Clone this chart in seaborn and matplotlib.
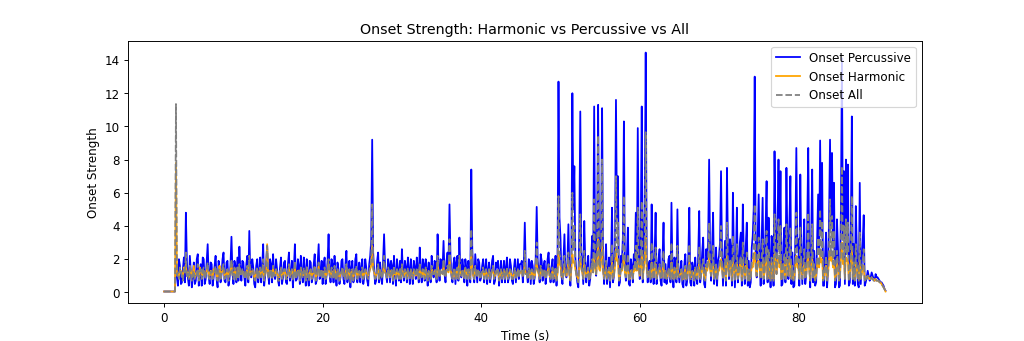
import numpy as np
import pandas as pd
import matplotlib
matplotlib.use("Agg")
import matplotlib.pyplot as plt
import seaborn as sns

# Onset strength envelopes.
# *_frames: samples at every 0.25 s (0 .. 91 s); *_mid: samples half-way between them.
perc_frames = [
    0.05,0.05,0.05,0.05,0.05,0.05,1.9,0.4,1.6,0.6,2.1,4.8,0.9,2.2,0.3,1.8,0.7,2.3,1.0,0.4,
    2.0,0.8,2.9,0.5,1.7,0.9,2.2,0.3,1.5,1.1,2.4,0.6,1.9,0.8,3.35,0.5,1.6,2.1,2.75,0.7,
    1.8,0.4,2.2,3.7,0.9,1.5,0.3,2.0,1.2,0.6,2.9,1.0,2.8,0.5,1.7,2.3,0.8,1.4,0.4,2.1,
    0.9,1.9,0.5,2.4,1.1,0.3,2.9,0.8,1.6,2.2,0.6,1.3,2.0,0.4,1.8,0.9,2.3,0.7,2.9,1.2,
    0.5,2.1,1.0,3.5,0.6,1.7,2.2,0.4,1.4,0.9,2.0,0.5,2.5,1.1,0.3,1.9,0.8,2.3,1.3,0.6,
    2.0,0.9,1.5,0.4,2.2,9.2,1.3,0.7,2.4,1.8,0.5,3.5,1.1,2.0,0.6,1.6,2.2,0.4,1.3,1.9,
    2.6,0.7,1.5,2.1,0.5,1.2,1.9,0.8,1.4,2.7,0.6,1.7,2.0,0.4,1.1,2.2,0.9,1.6,3.5,0.7,
    1.8,3.1,0.6,2.4,5.3,1.0,1.7,0.5,2.2,3.3,0.9,1.5,2.0,0.4,1.3,7.4,1.1,2.3,0.6,1.8,
    0.9,2.0,1.4,0.5,1.8,1.1,2.2,0.7,1.5,0.4,1.9,1.2,0.6,2.1,0.9,1.6,0.5,2.0,1.3,0.8,
    1.7,0.6,4.2,1.2,2.0,0.5,1.6,0.9,5.15,1.4,2.3,0.7,1.9,1.1,2.4,0.6,2.0,1.3,0.4,12.7,
    3.3,0.5,3.5,0.9,4.1,0.4,12.0,7.6,1.2,0.3,10.9,1.5,4.3,0.6,2.2,0.8,3.4,11.2,1.0,11.3,
    1.4,11.1,0.5,2.9,1.2,0.3,5.1,1.0,11.6,7.0,0.6,1.8,10.3,0.7,3.9,0.4,1.6,2.3,4.8,9.9,
    0.8,11.2,2.4,14.45,0.6,1.9,5.3,0.5,4.8,1.3,2.6,0.4,4.2,1.7,0.9,2.2,5.4,0.3,1.8,5.0,
    0.6,1.9,0.3,2.3,0.8,5.1,0.4,1.5,2.1,0.5,4.9,1.2,3.3,0.3,2.0,8.0,0.7,4.8,1.1,0.4,
    2.2,7.3,0.4,3.1,7.5,0.8,2.6,6.0,0.3,5.1,1.4,3.6,5.3,0.5,4.2,1.9,0.6,3.4,13.0,0.9,
    5.9,0.4,5.7,1.6,6.7,4.5,0.3,2.8,8.5,1.2,8.0,7.3,0.5,3.9,7.5,0.8,7.0,2.4,0.4,8.7,
    3.2,7.1,0.5,4.4,1.1,8.7,0.3,7.4,2.5,0.6,5.9,9.15,7.8,0.4,3.6,1.3,9.2,8.4,6.6,0.5,
    2.7,0.4,14.1,7.3,8.0,7.7,0.6,10.6,2.9,5.2,0.5,6.6,1.8,4.65,0.6,1.3,0.7,1.2,0.8,1.1,
    0.9,0.7,0.6,0.4,0.1,
]
perc_mid = [
    0.05,0.05,0.05,0.05,0.05,0.05,1.1,2.0,0.5,1.4,0.6,1.9,0.4,1.3,1.0,0.5,2.0,0.4,1.7,2.1,
    0.5,1.9,1.0,1.8,0.4,1.6,0.8,1.9,0.6,2.0,0.7,1.8,0.4,1.6,1.2,1.9,0.6,0.7,1.3,1.9,
    0.9,1.7,0.6,1.2,2.0,0.5,1.6,0.6,2.1,1.5,0.4,1.8,1.1,2.0,0.6,1.1,2.0,0.7,1.5,0.5,
    1.8,0.6,1.7,0.7,1.9,1.4,0.7,2.0,0.5,1.1,2.1,0.4,0.9,1.9,0.6,1.7,0.5,1.8,0.8,1.9,
    1.6,0.5,1.9,1.2,2.0,0.6,1.1,1.8,0.5,1.9,0.8,1.7,0.6,1.9,1.5,0.6,2.0,0.6,1.8,1.5,
    0.5,2.0,0.7,1.7,3.1,2.4,0.5,1.9,0.6,0.9,1.9,1.6,0.6,1.7,1.9,0.5,1.1,2.0,0.7,0.6,
    1.3,1.9,0.6,1.4,2.0,0.5,1.5,2.1,0.6,1.2,2.0,0.7,1.4,1.8,0.6,1.3,1.9,0.6,1.5,2.0,
    1.4,1.2,1.9,1.6,2.2,0.6,2.1,1.8,0.7,1.3,2.0,0.6,1.5,1.9,0.6,2.6,0.6,1.4,2.0,0.7,
    1.6,0.6,2.0,1.3,0.6,1.9,0.5,1.8,1.9,1.2,0.6,1.9,1.5,0.6,2.0,0.7,1.4,0.6,2.0,1.7,
    1.9,1.6,1.4,0.6,1.8,1.9,0.5,2.1,1.9,0.6,1.9,1.6,0.5,2.0,1.2,1.5,0.6,2.2,1.6,4.5,
    1.0,2.0,1.2,1.8,1.3,2.2,5.0,2.1,0.6,3.8,2.6,0.5,1.9,1.5,0.4,2.0,1.6,2.5,4.2,2.2,
    3.8,1.9,1.6,0.5,2.1,1.8,0.6,2.8,4.5,0.4,2.2,3.4,1.6,2.1,0.5,2.0,0.6,1.9,1.8,2.4,
    3.6,0.6,5.0,2.2,1.7,0.6,1.9,2.3,0.5,2.0,0.7,2.1,0.6,0.5,2.0,0.6,1.4,2.1,0.6,1.3,
    1.4,0.5,1.7,0.4,2.2,0.6,1.8,0.4,0.9,2.3,0.6,2.4,0.5,2.6,3.1,2.2,2.6,0.5,2.7,1.9,
    3.0,2.5,1.8,0.4,2.7,3.2,0.4,2.3,1.9,0.6,3.0,0.4,2.1,2.8,0.4,0.3,2.7,5.1,2.5,3.4,
    2.2,3.0,0.5,3.9,0.6,1.9,3.4,0.4,3.6,4.1,2.6,0.4,3.0,0.6,2.9,4.2,0.5,0.3,3.3,2.7,
    0.4,2.5,2.6,0.5,4.0,2.2,3.3,0.6,0.4,3.2,2.4,3.5,0.4,2.2,0.3,4.4,3.9,2.7,0.3,4.4,
    0.3,5.1,3.2,0.5,4.1,0.4,3.8,0.5,0.4,2.7,0.3,0.5,3.1,0.4,0.9,1.0,0.9,1.0,0.7,0.9,
    0.8,0.6,0.5,0.2,
]

harm_frames = [
    0.05,0.05,0.05,0.05,0.05,0.05,7.8,1.0,1.3,1.1,1.5,1.7,1.2,1.4,0.9,1.6,1.1,1.3,1.5,1.0,
    1.3,1.1,1.5,1.0,1.2,1.4,1.3,0.9,1.6,1.2,1.4,1.0,1.3,1.1,1.7,1.0,1.4,1.2,1.5,1.1,
    1.2,1.0,1.4,1.6,1.1,1.3,0.9,1.4,1.2,1.0,1.6,1.1,2.9,1.0,1.3,1.5,1.1,1.2,0.9,1.4,
    1.1,1.3,1.0,1.5,1.2,0.9,1.6,1.1,1.3,1.4,1.0,1.2,1.5,0.9,1.3,1.1,1.5,1.0,1.6,1.2,
    1.0,1.3,1.1,1.7,1.0,1.2,1.4,0.9,1.2,1.1,1.4,1.0,1.5,1.1,0.8,1.3,1.1,1.4,1.2,1.0,
    1.3,1.1,1.2,1.0,1.4,2.8,1.2,1.0,1.5,1.3,1.0,1.7,1.1,1.3,1.0,1.2,1.4,1.0,1.2,1.3,
    1.5,1.0,1.2,1.3,0.9,1.1,1.3,1.0,1.2,1.5,1.0,1.2,1.4,0.9,1.1,1.4,1.1,1.2,1.8,1.0,
    1.2,1.6,1.0,1.4,2.0,1.1,1.2,0.9,1.3,1.7,1.0,1.2,1.4,0.9,1.1,2.4,1.0,1.4,1.0,1.2,
    1.1,1.3,1.2,0.9,1.3,1.1,1.4,1.0,1.2,0.9,1.3,1.1,0.9,1.4,1.0,1.2,0.9,1.3,1.1,1.0,
    1.2,1.0,1.8,1.1,1.3,0.9,1.2,1.0,2.0,1.1,1.4,1.0,1.3,1.1,1.5,0.9,1.3,1.2,0.8,2.5,
    1.6,0.9,1.5,1.0,1.7,0.8,2.3,1.8,1.1,0.8,2.0,1.2,1.7,1.0,1.3,1.0,1.5,2.1,1.1,3.2,
    1.3,2.9,0.9,1.5,1.1,0.8,1.8,1.0,2.6,1.9,1.0,1.3,2.2,1.0,1.6,0.8,1.2,1.4,1.7,2.0,
    1.0,2.2,1.4,3.3,1.0,1.3,1.8,0.9,1.7,1.1,1.5,0.9,1.6,1.2,1.0,1.3,1.8,0.8,1.2,1.7,
    1.0,1.3,0.8,1.4,1.0,1.8,0.9,1.2,1.4,0.9,1.7,1.1,1.5,0.8,1.3,2.1,1.0,1.7,1.1,0.9,
    1.3,2.0,0.9,1.6,2.2,1.0,1.5,1.9,0.8,1.7,1.1,1.6,1.8,0.9,1.6,1.2,1.0,1.5,2.4,1.0,
    1.9,0.9,1.8,1.2,2.0,1.6,0.8,1.4,2.3,1.1,2.1,1.9,1.0,1.6,2.0,1.0,1.9,1.3,0.9,2.2,
    1.5,1.9,0.9,1.7,1.1,2.2,0.8,2.0,1.4,1.0,1.8,2.4,2.0,0.9,1.6,1.1,2.5,2.1,1.8,1.0,
    1.4,0.9,3.0,2.0,2.1,2.0,1.0,2.5,1.4,1.7,0.9,1.9,1.1,1.6,0.9,1.0,0.8,0.9,0.8,0.8,
    0.7,0.6,0.5,0.3,0.05,
]
harm_mid = [
    0.05,0.05,0.05,0.05,0.05,0.05,1.2,1.0,1.3,0.9,1.2,1.0,0.9,1.3,1.0,0.9,1.2,0.9,1.3,1.2,
    1.0,1.3,1.1,1.3,0.9,1.2,1.0,1.3,0.9,1.3,1.0,1.2,0.9,1.3,1.1,1.3,0.9,1.0,1.1,1.3,
    1.0,1.2,0.9,1.1,1.3,0.9,1.2,0.9,1.3,1.2,0.9,1.3,1.1,1.3,0.9,1.1,1.3,0.9,1.2,0.9,
    1.3,0.9,1.2,1.0,1.3,1.1,0.9,1.3,0.9,1.1,1.3,0.9,1.0,1.2,0.9,1.2,0.9,1.3,1.0,1.3,
    1.2,0.9,1.3,1.1,1.3,0.9,1.1,1.3,0.9,1.2,1.0,1.2,0.9,1.3,1.2,0.9,1.3,0.9,1.2,1.2,
    0.9,1.3,1.0,1.2,1.6,1.4,0.9,1.2,0.9,1.1,1.3,1.2,0.9,1.2,1.3,0.9,1.1,1.3,0.9,0.9,
    1.2,1.3,0.9,1.1,1.3,0.9,1.2,1.3,0.9,1.1,1.3,0.9,1.1,1.2,0.9,1.1,1.3,0.9,1.2,1.3,
    1.1,1.1,1.3,1.2,1.4,0.9,1.3,1.2,0.9,1.1,1.3,0.9,1.2,1.3,0.9,1.5,0.9,1.1,1.3,0.9,
    1.2,0.9,1.3,1.0,0.9,1.3,0.9,1.2,1.3,1.0,0.9,1.3,1.1,0.9,1.3,0.9,1.1,0.9,1.3,1.2,
    1.3,1.2,1.1,0.9,1.2,1.3,0.9,1.4,1.3,0.9,1.3,1.2,0.9,1.3,1.0,1.1,0.9,1.4,1.1,1.7,
    1.0,1.3,1.1,1.3,1.1,1.4,1.8,1.4,0.9,1.6,1.4,0.9,1.3,1.1,0.8,1.4,1.2,1.5,1.8,1.4,
    1.9,1.3,1.2,0.9,1.4,1.2,0.9,1.6,1.9,0.8,1.4,1.7,1.2,1.4,0.9,1.3,0.9,1.3,1.3,1.5,
    1.7,0.9,2.0,1.4,1.2,0.9,1.3,1.5,0.9,1.3,1.0,1.4,0.9,0.9,1.3,0.9,1.1,1.4,0.9,1.0,
    1.1,0.8,1.2,0.8,1.4,0.9,1.2,0.8,1.0,1.4,0.9,1.4,0.9,1.5,1.6,1.4,1.5,0.9,1.6,1.3,
    1.6,1.5,1.3,0.8,1.6,1.7,0.8,1.5,1.3,0.9,1.7,0.8,1.4,1.6,0.8,0.8,1.6,2.0,1.5,1.8,
    1.4,1.7,0.9,1.9,0.9,1.3,1.8,0.8,1.9,2.0,1.5,0.8,1.7,0.9,1.6,2.0,0.9,0.8,1.7,1.5,
    0.9,1.5,1.5,0.9,1.9,1.4,1.7,0.9,0.8,1.7,1.5,1.8,0.8,1.4,0.8,2.0,1.9,1.5,0.8,2.0,
    0.8,2.2,1.7,0.9,1.9,0.8,1.8,0.9,0.8,1.5,0.8,0.9,1.5,0.8,0.9,0.9,0.8,0.8,0.7,0.7,
    0.7,0.6,0.4,0.2,
]

all_frames = [
    0.05,0.05,0.05,0.05,0.05,0.05,11.35,1.2,1.5,0.9,1.4,2.4,1.1,1.6,0.7,1.3,1.0,1.7,1.2,0.8,
    1.5,1.0,1.8,0.8,1.3,1.1,1.6,0.7,1.2,1.3,1.7,0.9,1.4,1.0,2.0,0.8,1.2,1.5,1.7,1.0,
    1.4,0.8,1.6,2.2,1.1,1.3,0.7,1.5,1.2,0.9,2.0,1.1,2.8,0.8,1.3,1.6,1.0,1.2,0.7,1.5,
    1.1,1.4,0.8,1.7,1.2,0.7,1.9,1.0,1.3,1.5,0.9,1.2,1.5,0.7,1.4,1.1,1.6,0.9,1.8,1.2,
    0.8,1.5,1.1,2.0,0.9,1.3,1.6,0.7,1.2,1.0,1.5,0.8,1.7,1.1,0.6,1.4,1.0,1.6,1.2,0.9,
    1.5,1.0,1.3,0.8,1.6,5.3,1.2,0.9,1.7,1.4,0.8,2.2,1.1,1.5,0.9,1.3,1.6,0.8,1.2,1.4,
    1.7,0.9,1.2,1.5,0.8,1.1,1.4,1.0,1.2,1.8,0.9,1.3,1.5,0.7,1.0,1.6,1.1,1.3,2.2,0.9,
    1.3,2.0,0.9,1.6,3.2,1.1,1.3,0.8,1.5,2.2,1.0,1.2,1.5,0.8,1.1,3.8,1.0,1.6,0.9,1.3,
    1.0,1.5,1.2,0.8,1.4,1.1,1.6,0.9,1.2,0.7,1.4,1.1,0.8,1.5,1.0,1.3,0.8,1.5,1.1,0.9,
    1.3,0.9,2.5,1.1,1.5,0.8,1.3,1.0,3.0,1.2,1.6,0.9,1.4,1.1,1.7,0.8,1.5,1.2,0.7,5.8,
    2.1,0.8,2.2,1.0,2.4,0.7,6.0,4.0,1.1,0.6,4.7,1.2,2.5,0.9,1.5,1.0,2.0,5.6,1.1,9.45,
    1.5,8.0,0.8,1.9,1.1,0.6,2.9,1.0,7.0,4.2,0.9,1.4,5.8,0.9,2.3,0.7,1.3,1.6,2.8,5.1,
    1.0,5.5,1.6,9.65,0.9,1.4,3.0,0.8,2.7,1.1,1.7,0.8,2.5,1.3,1.0,1.5,3.0,0.7,1.3,2.8,
    0.9,1.4,0.7,1.6,1.0,2.9,0.8,1.2,1.5,0.8,2.7,1.1,2.0,0.7,1.4,4.2,1.0,2.8,1.1,0.8,
    1.5,4.0,0.8,2.0,4.2,1.0,1.7,3.4,0.7,2.9,1.2,2.2,3.0,0.8,2.4,1.4,0.9,2.1,5.3,1.0,
    3.3,0.8,3.2,1.3,3.7,2.6,0.7,1.8,4.7,1.1,4.4,4.0,0.9,2.3,4.1,1.0,3.9,1.6,0.8,4.8,
    2.0,3.9,0.8,2.6,1.1,4.8,0.7,4.1,1.7,0.9,3.3,5.0,4.3,0.8,2.2,1.1,5.6,4.6,3.7,0.9,
    1.7,0.8,7.6,4.0,4.4,4.2,0.9,5.8,1.8,2.9,0.8,3.6,1.2,2.6,0.9,1.0,0.8,0.9,0.7,0.8,
    0.7,0.6,0.5,0.3,0.05,
]
all_mid = [
    0.05,0.05,0.05,0.05,0.05,0.05,1.0,0.8,1.3,0.7,1.1,0.9,0.8,1.2,1.1,0.8,1.0,0.7,1.4,1.3,
    0.8,1.4,0.9,1.2,0.8,1.3,0.9,1.4,0.7,1.5,0.8,1.3,0.7,1.2,1.0,1.5,0.7,0.9,1.0,1.4,
    1.0,1.3,0.8,1.0,1.4,0.8,1.2,0.8,1.5,1.3,0.7,1.4,1.0,1.4,0.8,1.0,1.4,0.7,1.2,0.8,
    1.4,0.8,1.3,0.9,1.4,1.1,0.8,1.4,0.7,1.0,1.5,0.7,0.9,1.3,0.8,1.3,0.7,1.4,0.9,1.4,
    1.2,0.8,1.4,1.0,1.5,0.8,1.0,1.4,0.7,1.3,0.9,1.3,0.8,1.4,1.2,0.7,1.4,0.8,1.3,1.2,
    0.8,1.4,0.9,1.2,1.9,1.5,0.8,1.3,0.8,1.0,1.4,1.2,0.8,1.3,1.4,0.7,1.0,1.4,0.8,0.8,
    1.1,1.4,0.8,1.1,1.4,0.8,1.2,1.5,0.8,1.1,1.4,0.8,1.1,1.3,0.8,1.1,1.4,0.8,1.2,1.4,
    1.1,1.0,1.4,1.2,1.6,0.8,1.5,1.3,0.8,1.1,1.4,0.8,1.2,1.4,0.8,1.7,0.8,1.1,1.4,0.8,
    1.3,0.8,1.4,1.0,0.8,1.4,0.8,1.3,1.4,1.0,0.8,1.4,1.1,0.8,1.4,0.8,1.1,0.8,1.4,1.3,
    1.4,1.2,1.1,0.8,1.3,1.4,0.8,1.5,1.4,0.8,1.4,1.2,0.8,1.4,1.0,1.1,0.8,1.5,1.2,2.3,
    0.9,1.4,1.0,1.4,1.1,1.6,2.5,1.5,0.8,2.0,1.6,0.8,1.4,1.1,0.7,1.5,1.2,1.6,2.2,1.5,
    2.3,1.4,1.2,0.8,1.5,1.3,0.8,1.8,2.3,0.7,1.5,2.0,1.2,1.5,0.8,1.4,0.8,1.4,1.3,1.6,
    2.0,0.8,2.6,1.5,1.2,0.8,1.4,1.6,0.8,1.4,0.9,1.5,0.8,0.8,1.4,0.8,1.1,1.5,0.8,1.0,
    1.1,0.7,1.3,0.7,1.5,0.8,1.3,0.7,0.9,1.5,0.8,1.6,0.8,1.7,1.9,1.5,1.7,0.8,1.8,1.4,
    1.9,1.6,1.3,0.7,1.8,2.0,0.7,1.6,1.3,0.8,1.9,0.7,1.5,1.8,0.7,0.7,1.8,2.6,1.6,2.1,
    1.5,1.9,0.8,2.3,0.8,1.4,2.1,0.7,2.2,2.4,1.7,0.7,1.9,0.8,1.8,2.4,0.8,0.7,2.0,1.7,
    0.8,1.6,1.7,0.8,2.3,1.5,2.0,0.8,0.7,2.0,1.6,2.1,0.7,1.5,0.7,2.5,2.2,1.7,0.7,2.5,
    0.7,2.8,1.9,0.8,2.3,0.7,2.2,0.8,0.7,1.7,0.7,0.8,1.8,0.7,0.8,0.9,0.8,0.8,0.7,0.7,
    0.7,0.6,0.4,0.2,
]

FRAME_STEP = 0.25  # seconds between the samples in *_frames


def merge(frames, mids):
    """Interleave frame samples with the half-way samples."""
    assert len(mids) == len(frames) - 1, (len(frames), len(mids))
    out = np.empty(len(frames) + len(mids))
    out[0::2] = frames
    out[1::2] = mids
    return out


onset_percussive = merge(perc_frames, perc_mid)
onset_harmonic = merge(harm_frames, harm_mid)
onset_all = merge(all_frames, all_mid)
times = np.arange(len(onset_percussive)) * (FRAME_STEP / 2)

df = pd.DataFrame({
    "time": times,
    "perc": onset_percussive,
    "harm": onset_harmonic,
    "all": onset_all,
})

fig, ax = plt.subplots(figsize=(12, 4), dpi=1024 / 12)

sns.lineplot(data=df, x="time", y="perc", color="blue", label="Onset Percussive",
             ax=ax, estimator=None, linewidth=1.5)
sns.lineplot(data=df, x="time", y="harm", color="orange", label="Onset Harmonic",
             ax=ax, estimator=None, linewidth=1.5)
sns.lineplot(data=df, x="time", y="all", color="gray", linestyle="--", label="Onset All",
             ax=ax, estimator=None, linewidth=1.5)

ax.set_title("Onset Strength: Harmonic vs Percussive vs All")
ax.set_xlabel("Time (s)")
ax.set_ylabel("Onset Strength")
ax.legend(loc="upper right")

fig.savefig("out.png", dpi=1024 / 12)
